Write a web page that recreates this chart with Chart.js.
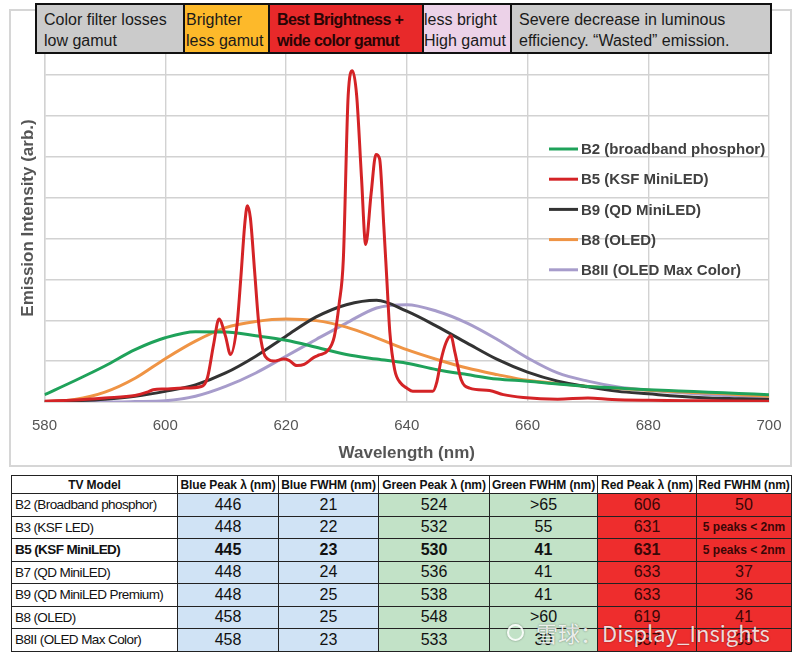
<!DOCTYPE html>
<html>
<head>
<meta charset="utf-8">
<script src="https://cdn.jsdelivr.net/npm/chart.js@4.4.1/dist/chart.umd.min.js"></script>
<style>
  html, body { margin: 0; padding: 0; background: #fff; }
  body { width: 800px; height: 661px; position: relative; overflow: hidden; font-family: 'Liberation Sans', Arial, sans-serif; }
  .chart-frame { position: absolute; left: 9px; top: 9px; width: 779px; height: 454px; border: 2px solid #d6d6d6; }
  .chart-wrap { position: absolute; left: 0; top: 0; width: 800px; height: 465px; }
  .band { position: absolute; top: 3px; height: 51px; box-sizing: border-box; border: 2px solid #111; z-index: 5;
    padding-top: 3.5px; font: 16px/21px 'Liberation Sans', Arial, sans-serif; color: #1a1a1a; white-space: nowrap; overflow: hidden; }
  .band.bold { font-weight: bold; letter-spacing: -0.6px; color: #2a0505; }
  .specs { position: absolute; left: 11px; top: 475px; width: 780px; border-collapse: collapse; table-layout: fixed; }
  .specs th, .specs td { border: 1.5px solid #222; padding: 0; text-align: center; white-space: nowrap; overflow: hidden; }
  .specs th { height: 17px; font: bold 12px 'Liberation Sans', Arial, sans-serif; color: #111; background: #fff; letter-spacing: -0.1px; }
  .specs td { height: 21.5px; font: 16px 'Liberation Sans', Arial, sans-serif; color: #111; }
  .specs td.model { text-align: left; padding-left: 3px; font: 13.5px 'Liberation Sans', Arial, sans-serif; letter-spacing: -0.6px; background: #fff; }
  .specs td.blue { background: #d0e3f5; }
  .specs td.green { background: #c2e2c7; }
  .specs td.red { background: #ee2d2d; color: #3a0707; }
  .specs td.small { font: bold 12px 'Liberation Sans', Arial, sans-serif; }
  .specs tr.hl td { font-weight: bold; }
  .mark { position: absolute; left: 536px; top: 616px; font: 22px/32px 'Noto Sans CJK SC', sans-serif; color: rgba(255,255,255,0.85);
    text-shadow: 0 0 2px rgba(0,0,0,0.45); z-index: 6; white-space: nowrap; }
  .mark-icon { position: absolute; left: 507px; top: 624px; width: 13px; height: 13px; border: 2.5px solid rgba(255,255,255,0.85);
    border-radius: 50%; box-shadow: 0 0 2px rgba(0,0,0,0.45); z-index: 6; }
</style>
</head>
<body>
<div class="chart-frame"></div>
<div class="chart-wrap"><canvas id="spectra"></canvas></div>
<div id="bands"></div>
<table class="specs" id="specTable"></table>
<div class="mark-icon"></div>
<div class="mark">雪球：Display_Insights</div>
<script>
// emission spectra (arb. units, one grid step = 1)
const smoothWave = [580, 585, 590, 595, 600, 605, 610, 615, 620, 625, 630, 635, 640,
  645, 650, 655, 660, 665, 670, 675, 680, 685, 690, 695, 700];
const b2Values = [0.18, 0.52, 0.88, 1.28, 1.57, 1.72, 1.71, 1.62, 1.51, 1.34, 1.16, 1.05, 0.95,
  0.79, 0.67, 0.56, 0.51, 0.44, 0.38, 0.34, 0.30, 0.27, 0.24, 0.21, 0.18];
const b9Values = [0.0, 0.03, 0.07, 0.14, 0.26, 0.42, 0.71, 1.12, 1.61, 2.08, 2.38, 2.49, 2.22,
  1.85, 1.44, 1.04, 0.73, 0.51, 0.37, 0.26, 0.20, 0.14, 0.10, 0.08, 0.06];
const b8Values = [0.0, 0.06, 0.24, 0.58, 1.06, 1.49, 1.82, 1.97, 2.03, 1.99, 1.83, 1.57, 1.28,
  1.04, 0.83, 0.67, 0.53, 0.45, 0.38, 0.33, 0.29, 0.25, 0.22, 0.18, 0.14];
const b8iiValues = [0.0, 0.0, 0.0, 0.01, 0.03, 0.14, 0.38, 0.71, 1.12, 1.53, 1.93, 2.30, 2.38,
  2.22, 1.93, 1.53, 1.08, 0.71, 0.51, 0.37, 0.29, 0.23, 0.18, 0.14, 0.10];
const b5Wave = [580, 585, 590, 595, 597, 598, 600, 603, 606, 607, 608, 608.9, 610, 610.8,
  611.9, 612.5, 613.2, 613.6, 614.1, 614.8, 615.5, 616.3, 617, 618, 619.6, 620.5, 621.8, 623,
  624.5, 625.5, 626.8, 628, 628.8, 629.5, 630.3, 631, 631.7, 632.5, 633.2, 634.1, 634.9, 635.5,
  636.2, 636.7, 637.2, 638, 639, 640, 641, 644.3, 645, 645.7, 646.5, 647.3, 648, 649, 650.4,
  653.7, 656, 659.3, 665, 670, 674, 680, 690, 700];
const b5Values = [0.02, 0.05, 0.10, 0.16, 0.24, 0.30, 0.32, 0.34, 0.38, 0.6, 1.4, 2.03, 1.6, 1.16,
  1.9, 3.0, 4.4, 4.8, 4.5, 3.2, 1.9, 1.2, 1.05, 1.0, 1.05, 1.02, 0.89, 0.92,
  1.08, 1.15, 1.24, 1.6, 2.4, 3.5, 7.5, 8.1, 7.5, 5.5, 3.85, 5.1, 6.05, 5.95,
  4.3, 3.0, 1.7, 0.79, 0.46, 0.34, 0.26, 0.26, 0.5, 1.04, 1.45, 1.62, 1.2, 0.55, 0.34,
  0.28, 0.18, 0.11, 0.07, 0.10, 0.06, 0.04, 0.03, 0.02];
const seriesLabels = ['B2 (broadband phosphor)', 'B5 (KSF MiniLED)', 'B9 (QD MiniLED)', 'B8 (OLED)', 'B8II (OLED Max Color)'];
const seriesColors = ['#1fa25a', '#d42326', '#333333', '#ef9445', '#a79ccb'];
const xTicks = [580, 600, 620, 640, 660, 680, 700];

// header bands
const bandTexts = [
  ['Color filter losses', 'low gamut'],
  ['Brighter', 'less gamut'],
  ['Best Brightness +', 'wide color gamut'],
  ['less bright', 'High gamut'],
  ['Severe decrease in luminous', 'efficiency.  \u201cWasted\u201d emission.']
];
const bandFills = ['#cbcbcb', '#fdb92a', '#e8292a', '#ecd2e8', '#cbcbcb'];
const bandEdges = [35, 183, 268, 422, 510, 770];
const bandPads = [7, 1, 7, 0, 7];

// spec table
const tableHeads = ['TV Model', 'Blue Peak \u03bb (nm)', 'Blue FWHM (nm)', 'Green Peak \u03bb (nm)', 'Green FWHM (nm)', 'Red Peak \u03bb (nm)', 'Red FWHM (nm)'];
const tvModels = ['B2 (Broadband phosphor)', 'B3 (KSF LED)', 'B5 (KSF MiniLED)', 'B7 (QD MiniLED)', 'B9 (QD MiniLED Premium)', 'B8 (OLED)', 'B8II (OLED Max Color)'];
const bluePeak = ['446', '448', '445', '448', '448', '458', '458'];
const blueFwhm = ['21', '22', '23', '24', '25', '25', '23'];
const greenPeak = ['524', '532', '530', '536', '538', '548', '533'];
const greenFwhm = ['>65', '55', '41', '41', '41', '>60', '30'];
const redPeak = ['606', '631', '631', '633', '633', '619', '637'];
const redFwhm = ['50', '5 peaks < 2nm', '5 peaks < 2nm', '37', '36', '41', '35'];

const bandsEl = document.getElementById('bands');
bandTexts.forEach((lines, i) => {
  const div = document.createElement('div');
  div.className = 'band' + (i === 2 ? ' bold' : '');
  div.style.left = bandEdges[i] + 'px';
  div.style.width = (bandEdges[i + 1] - bandEdges[i] + 2) + 'px';
  div.style.background = bandFills[i];
  div.style.paddingLeft = bandPads[i] + 'px';
  div.innerHTML = lines.join('<br>');
  bandsEl.appendChild(div);
});

const esc = s => s.replace(/</g, '&lt;').replace(/>/g, '&gt;');
const specTable = document.getElementById('specTable');
const colWidths = [166, 101, 100, 111, 108, 99, 95];
let html = '<colgroup>' + colWidths.map(w => `<col style="width:${w}px">`).join('') + '</colgroup>';
html += '<tr>' + tableHeads.map(h => `<th>${esc(h)}</th>`).join('') + '</tr>';
tvModels.forEach((m, r) => {
  html += `<tr class="${r === 2 ? 'hl' : ''}">`;
  html += `<td class="model">${m}</td>`;
  html += `<td class="blue">${bluePeak[r]}</td><td class="blue">${blueFwhm[r]}</td>`;
  html += `<td class="green">${esc(greenPeak[r])}</td><td class="green">${esc(greenFwhm[r])}</td>`;
  html += `<td class="red">${redPeak[r]}</td>`;
  html += `<td class="red${redFwhm[r].length > 4 ? ' small' : ''}">${esc(redFwhm[r])}</td>`;
  html += '</tr>';
});
specTable.innerHTML = html;

const toPoints = (xs, ys) => xs.map((x, i) => ({ x: x, y: ys[i] }));
const seriesData = [
  toPoints(smoothWave, b2Values),
  toPoints(b5Wave, b5Values),
  toPoints(smoothWave, b9Values),
  toPoints(smoothWave, b8Values),
  toPoints(smoothWave, b8iiValues)
];

const insideLegend = {
  id: 'insideLegend',
  afterDraw(chart) {
    const ctx = chart.ctx;
    ctx.save();
    ctx.font = 'bold 15px "Liberation Sans", Arial, sans-serif';
    ctx.textBaseline = 'middle';
    ctx.textAlign = 'left';
    seriesLabels.forEach((label, i) => {
      const y = 149 + i * 30.2;
      ctx.strokeStyle = seriesColors[i];
      ctx.lineWidth = 3;
      ctx.beginPath();
      ctx.moveTo(549, y);
      ctx.lineTo(578, y);
      ctx.stroke();
      ctx.fillStyle = '#404040';
      ctx.fillText(label, 581, y + 1);
    });
    ctx.restore();
  }
};

const gridColor = '#d2d2d2';
new Chart(document.getElementById('spectra'), {
  type: 'line',
  data: {
    datasets: seriesLabels.map((label, i) => ({
      label: label,
      data: seriesData[i],
      borderColor: seriesColors[i],
      borderWidth: 3,
      pointRadius: 0,
      fill: false,
      cubicInterpolationMode: 'monotone',
      order: i === 1 ? 0 : 1
    }))
  },
  options: {
    responsive: true,
    maintainAspectRatio: false,
    animation: false,
    layout: { padding: { left: 0, right: 31, top: 34, bottom: 0 } },
    plugins: {
      legend: { display: false },
      tooltip: { enabled: false }
    },
    scales: {
      x: {
        type: 'linear',
        min: 580,
        max: 700,
        afterBuildTicks: (s) => { s.ticks = xTicks.map(v => ({ value: v })); },
        afterFit: (s) => { s.height = 63; },
        ticks: { color: '#555', font: { family: 'Liberation Sans', size: 15 }, padding: 15, maxRotation: 0 },
        grid: { color: gridColor, lineWidth: 1.4, drawTicks: false },
        border: { color: gridColor, width: 1.4 },
        title: { display: true, text: 'Wavelength (nm)', color: '#555', font: { family: 'Liberation Sans', size: 17, weight: 'bold' }, padding: { top: 0, bottom: 1 } }
      },
      y: {
        min: 0,
        max: 9,
        afterFit: (s) => { s.width = 44.5; },
        ticks: { display: false, stepSize: 1 },
        grid: { color: gridColor, lineWidth: 1.4, drawTicks: false },
        border: { color: gridColor, width: 1.4 },
        title: { display: true, text: 'Emission Intensity (arb.)', color: '#555', font: { family: 'Liberation Sans', size: 17, weight: 'bold' }, padding: { top: 18, bottom: 0 } }
      }
    }
  },
  plugins: [insideLegend]
});
</script>
</body>
</html>
